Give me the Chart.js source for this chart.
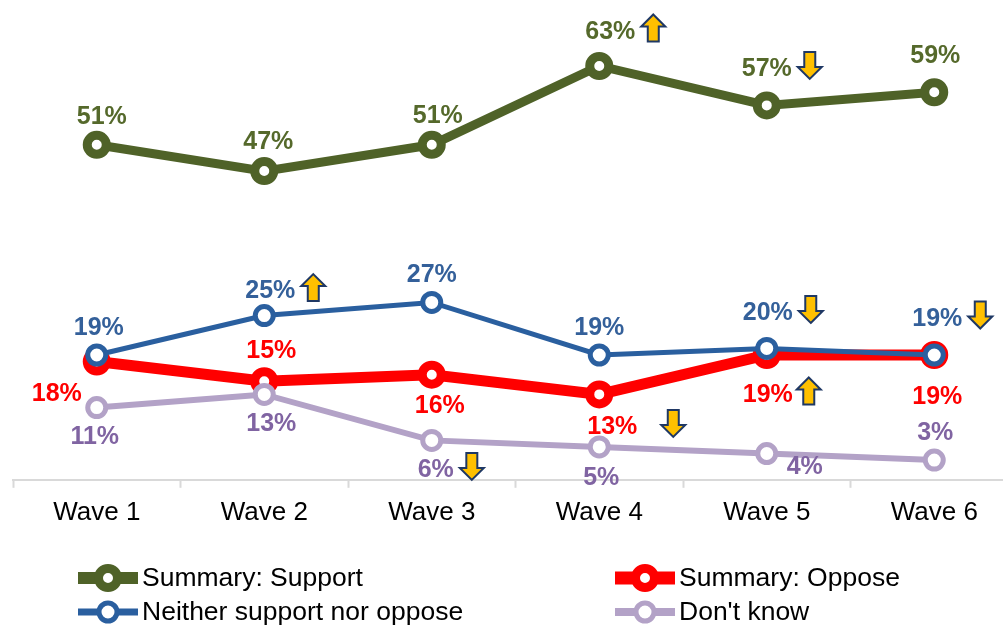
<!DOCTYPE html>
<html lang="en">
<head>
    <meta charset="UTF-8">
    <title>waves</title>
    <style>
        html, body { margin: 0; padding: 0; overflow: hidden; background: #fff; }
        canvas { display: block; }
    </style>
</head>
<body>

<script src="https://cdn.jsdelivr.net/npm/chart.js"></script>

<canvas id="mycanvas" width="1024" height="625"></canvas>

<script>
    // values per wave, in %
    const waves = ['Wave 1', 'Wave 2', 'Wave 3', 'Wave 4', 'Wave 5', 'Wave 6'];
    const support = [51, 47, 51, 63, 57, 59];
    const oppose = [18, 15, 16, 13, 19, 19];
    const neither = [19, 25, 27, 19, 20, 19];
    const dontKnow = [11, 13, 6, 5, 4, 3];

    // significant change vs previous wave
    const supportChange = ['', '', '', 'up', 'down', ''];
    const opposeChange = ['', '', '', 'down', 'up', ''];
    const neitherChange = ['', 'up', '', '', 'down', 'down'];
    const dontKnowChange = ['', '', 'down', '', '', ''];

    const FONT = '"Liberation Sans", Arial, sans-serif';

    // block arrow, yellow with dark outline
    function drawArrow(ctx, cx, cy, dir) {
        const w = 24, h = 27, sw = 11, head = 12;
        const s = dir === 'up' ? 1 : -1;
        const top = cy - s * h / 2, bot = cy + s * h / 2, neck = top + s * head;
        ctx.save();
        ctx.beginPath();
        ctx.moveTo(cx, top);
        ctx.lineTo(cx + w / 2, neck);
        ctx.lineTo(cx + sw / 2, neck);
        ctx.lineTo(cx + sw / 2, bot);
        ctx.lineTo(cx - sw / 2, bot);
        ctx.lineTo(cx - sw / 2, neck);
        ctx.lineTo(cx - w / 2, neck);
        ctx.closePath();
        ctx.fillStyle = '#FFC000';
        ctx.fill();
        ctx.lineWidth = 2;
        ctx.strokeStyle = '#1F3864';
        ctx.stroke();
        ctx.restore();
    }

    const valueLabels = {
        id: 'valueLabels',
        afterDatasetsDraw(chart) {
            const ctx = chart.ctx;
            ctx.save();
            ctx.font = 'bold 25px ' + FONT;
            ctx.textAlign = 'center';
            ctx.textBaseline = 'middle';
            chart.data.datasets.forEach((ds, i) => {
                const meta = chart.getDatasetMeta(i);
                meta.data.forEach((pt, j) => {
                    const off = ds.labelOffset[j];
                    const x = pt.x + off[0], y = pt.y + off[1];
                    const txt = ds.data[j] + '%';
                    ctx.fillStyle = ds.labelColor;
                    ctx.fillText(txt, x, y);
                    const dir = ds.change[j];
                    if (dir) {
                        const tw = ctx.measureText(txt).width;
                        const gap = (ds.arrowGap && ds.arrowGap[j]) || 6;
                        drawArrow(ctx, x + tw / 2 + gap + 12, y - 4, dir);
                    }
                });
            });
            ctx.restore();
        }
    };

    // two-column legend under the axis
    const gridLegend = {
        id: 'gridLegend',
        afterDraw(chart) {
            const ctx = chart.ctx;
            const left = chart.chartArea.left;
            const cols = [left + 65, left + 602];
            const rows = [578, 612];
            ctx.save();
            chart.data.datasets.forEach((ds, k) => {
                const x0 = cols[k % 2], y = rows[Math.floor(k / 2)];
                ctx.beginPath();
                ctx.moveTo(x0, y);
                ctx.lineTo(x0 + 60, y);
                ctx.lineWidth = ds.legendLine;
                ctx.lineCap = 'butt';
                ctx.strokeStyle = ds.borderColor;
                ctx.stroke();
                ctx.beginPath();
                ctx.arc(x0 + 30, y, ds.pointRadius, 0, Math.PI * 2);
                ctx.fillStyle = '#fff';
                ctx.fill();
                ctx.lineWidth = ds.pointBorderWidth;
                ctx.stroke();
                ctx.fillStyle = '#000';
                ctx.font = '26.5px ' + FONT;
                ctx.textAlign = 'left';
                ctx.textBaseline = 'middle';
                ctx.fillText(ds.label, x0 + 64, y + 1);
            });
            ctx.restore();
        }
    };

    const ctx = document.getElementById('mycanvas').getContext('2d');
    new Chart(ctx, {
        type: 'line',
        data: {
            labels: waves,
            datasets: [
                {
                    label: 'Summary: Support',
                    data: support,
                    change: supportChange,
                    borderColor: '#4F6228',
                    labelColor: '#55692B',
                    borderWidth: 9,
                    legendLine: 12,
                    pointRadius: 9.5,
                    pointBorderWidth: 9,
                    labelOffset: [[5, -28], [4, -29], [6, -29], [11, -34], [0, -36], [1, -36]],
                    order: 3
                },
                {
                    label: 'Summary: Oppose',
                    data: oppose,
                    change: opposeChange,
                    borderColor: '#FF0000',
                    labelColor: '#FF0000',
                    borderWidth: 11,
                    legendLine: 13,
                    pointRadius: 9.5,
                    pointBorderWidth: 9,
                    labelOffset: [[-40, 33], [7, -30], [8, 31], [13, 33], [1, 40], [3, 42]],
                    arrowGap: [0, 0, 0, 24, 4, 0],
                    order: 2
                },
                {
                    label: 'Neither support nor oppose',
                    data: neither,
                    change: neitherChange,
                    borderColor: '#2A5F9F',
                    labelColor: '#34609A',
                    borderWidth: 5,
                    legendLine: 7,
                    pointRadius: 9,
                    pointBorderWidth: 5,
                    labelOffset: [[2, -27], [6, -24], [0, -27], [0, -27], [1, -35], [3, -36]],
                    order: 1
                },
                {
                    label: "Don't know",
                    data: dontKnow,
                    change: dontKnowChange,
                    borderColor: '#B3A2C7',
                    labelColor: '#8064A2',
                    borderWidth: 6,
                    legendLine: 8,
                    pointRadius: 9,
                    pointBorderWidth: 5,
                    labelOffset: [[-2, 30], [7, 30], [4, 30], [2, 31], [38, 14], [1, -27]],
                    order: 0
                }
            ].map(ds => Object.assign({
                pointBackgroundColor: '#fff',
                pointBorderColor: ds.borderColor,
                pointHoverRadius: ds.pointRadius,
                tension: 0,
                clip: false
            }, ds))
        },
        options: {
            responsive: false,
            animation: false,
            layout: { autoPadding: false, padding: { left: 13, right: 6, top: 20, bottom: 88 } },
            plugins: {
                legend: { display: false },
                tooltip: { enabled: false }
            },
            scales: {
                x: {
                    offset: true,
                    grid: {
                        offset: true,
                        drawOnChartArea: false,
                        drawTicks: true,
                        tickLength: 8,
                        tickWidth: 2,
                        tickColor: '#D9D9D9'
                    },
                    border: { color: '#D9D9D9', width: 2 },
                    ticks: {
                        color: '#000',
                        padding: 9,
                        font: { family: FONT, size: 26 }
                    }
                },
                y: {
                    display: false,
                    min: 0,
                    max: 70
                }
            }
        },
        plugins: [valueLabels, gridLegend]
    });
</script>

</body>
</html>
